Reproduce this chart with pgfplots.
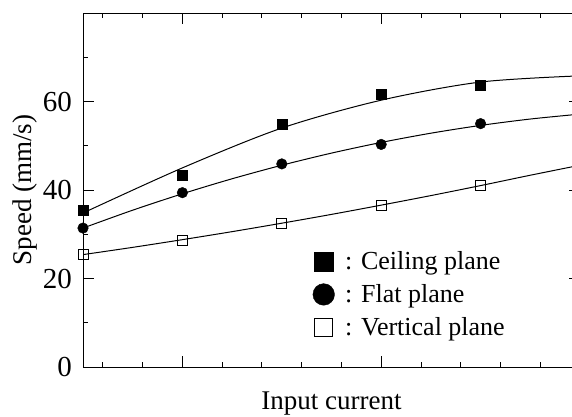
\documentclass[border=0pt]{standalone}
\usepackage{fontspec}
\setmainfont{Liberation Serif}
\usepackage{pgfplots}
\pgfplotsset{compat=1.18}
\begin{document}
\begin{tikzpicture}
\begin{axis}[
  at={(83pt,49pt)}, anchor=south west,
  scale only axis, width=497pt, height=354pt,
  xmin=0, xmax=5, ymin=0, ymax=80,
  xtick={1,3,5}, xticklabels={},
  minor xtick={0.2,0.6,1.4,1.8,2.2,2.6,3.4,3.8,4.2,4.6},
  ytick={0,20,40,60}, minor ytick={10,30,50,70},
  major tick length=11pt, minor tick length=5pt,
  tick align=inside,
  every tick/.style={black, line width=0.9pt},
  axis line style={line width=1pt},
  /pgf/number format/assume math mode=true,
  yticklabel style={font=\fontsize{29}{32}\selectfont, inner sep=0pt, xshift=-11pt},
  xlabel={Input current}, ylabel={Speed (mm/s)},
  label style={font=\fontsize{27}{32}\selectfont, inner sep=0pt},
  xlabel style={at={(axis description cs:0.5,0)}, anchor=north, yshift=-25pt},
  ylabel style={at={(axis description cs:-0.1408,0.5)}, anchor=north},
  legend style={draw=none, fill=none, at={(0.4618,0.3257)}, anchor=north west,
    inner sep=0pt, font=\fontsize{26}{30}\selectfont, row sep=12pt, column sep=10.5pt,
    nodes={inner sep=0pt}},
  legend cell align=left,
]
% fitted curves
\addplot[black, line width=1pt, smooth, forget plot] coordinates {
  (0,34.8) (1,45.0) (2,54.0) (3,60.3) (4,64.4) (5,65.8)};
\addplot[black, line width=1pt, smooth, forget plot] coordinates {
  (0,31.4) (0.5,35.44) (1,39.15) (1.5,42.54) (2,45.6) (2.5,48.34) (3,50.75) (3.5,52.84) (4,54.6) (4.5,56.04) (5,57.15)};
\addplot[black, line width=1pt, smooth, forget plot] coordinates {
  (0,25.4) (0.5,27.04) (1,28.78) (1.5,30.59) (2,32.5) (2.5,34.49) (3,36.58) (3.5,38.74) (4,41.0) (4.5,43.34) (5,45.6)};
% measured points
\addplot[only marks, mark=square*, mark size=5pt, mark options={black, fill=black},
  legend image code/.code={\fill[black] (1.3pt,-9.5pt) rectangle (20.3pt,9.5pt);}]
  coordinates {(0,35.5) (1,43.3) (2,54.9) (3,61.6) (4,63.6)};
\addlegendentry{: Ceiling plane}
\addplot[only marks, mark=*, mark size=5.3pt, mark options={black, fill=black},
  legend image code/.code={\fill[black] (10.8pt,0pt) circle (10.8pt);}]
  coordinates {(0,31.4) (1,39.4) (2,45.9) (3,50.3) (4,55.0)};
\addlegendentry{: Flat plane}
\addplot[only marks, mark=square, mark size=5pt, mark options={black, fill=white, line width=0.8pt},
  legend image code/.code={\draw[black, line width=0.8pt, fill=white] (1.7pt,-9.1pt) rectangle (19.9pt,9.1pt);}]
  coordinates {(0,25.4) (1,28.5) (2,32.5) (3,36.5) (4,41.0)};
\addlegendentry{: Vertical plane}
\end{axis}
\pgfresetboundingbox
\path[use as bounding box] (0,0) rectangle (572pt,416pt);
\end{tikzpicture}
\end{document}
